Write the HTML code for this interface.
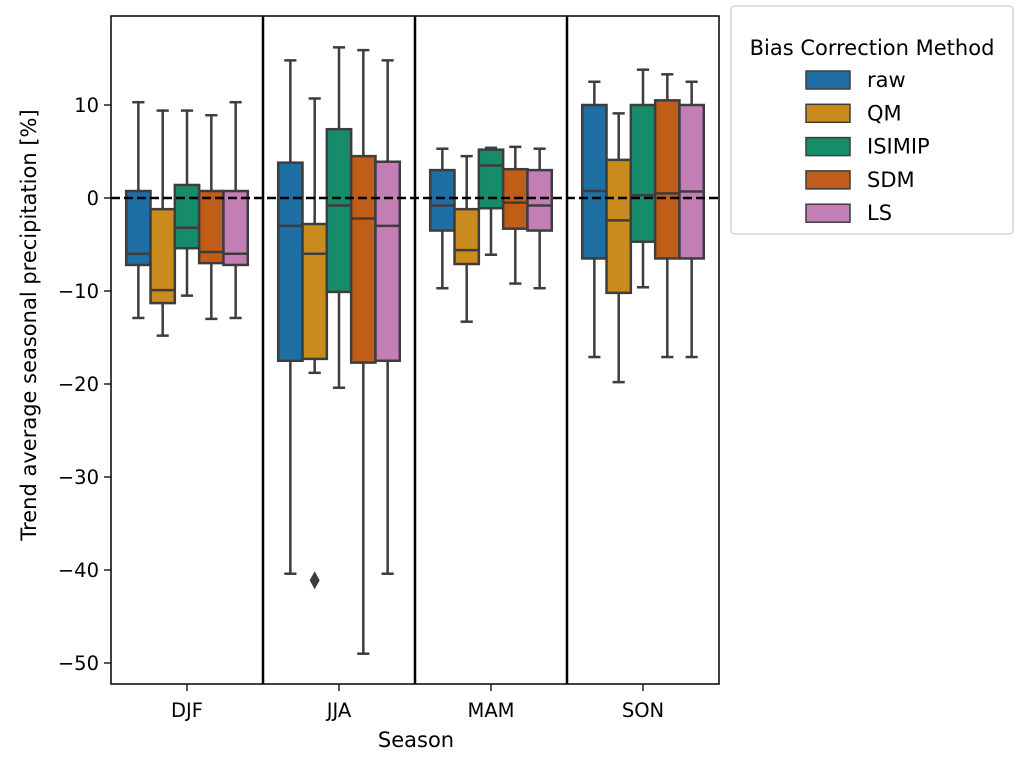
<!DOCTYPE html>
<html><head><meta charset="utf-8"><style>
body{margin:0;background:#fff;}
svg text{font-family:"DejaVu Sans","Liberation Sans",sans-serif;fill:#000;}
</style></head><body>
<svg id="chart" width="1033" height="765" xmlns="http://www.w3.org/2000/svg"></svg>
<script>
const seasons=["DJF","JJA","MAM","SON"];
const methods=["raw","QM","ISIMIP","SDM","LS"];
const colors=["#1f6fa5","#c98b1d","#178c6a","#c05d19","#c27eb5"];
// [low whisker, Q1, median, Q3, high whisker] per season per method
const djf=[[-12.9,-7.2,-6,0.75,10.3],[-14.8,-11.3,-9.9,-1.2,9.4],[-10.5,-5.4,-3.2,1.4,9.4],[-13,-7,-5.8,0.75,8.9],[-12.9,-7.2,-6,0.75,10.3]];
const jja=[[-40.4,-17.5,-3,3.8,14.8],[-18.8,-17.3,-6,-2.8,10.7],[-20.4,-10.1,-0.8,7.4,16.2],[-49,-17.7,-2.2,4.5,15.9],[-40.4,-17.5,-3,3.9,14.8]];
const mam=[[-9.7,-3.5,-0.8,3,5.3],[-13.3,-7.1,-5.6,-1.2,4.5],[-6.1,-1.1,3.5,5.2,5.4],[-9.2,-3.3,-0.5,3.1,5.5],[-9.7,-3.5,-0.8,3,5.3]];
const son=[[-17.1,-6.5,0.75,10,12.5],[-19.8,-10.2,-2.4,4.1,9.1],[-9.6,-4.7,0.3,10,13.8],[-17.1,-6.5,0.5,10.5,13.3],[-17.1,-6.5,0.7,10,12.5]];
const seasonData=[djf,jja,mam,son];
const outliers=[{s:1,m:1,v:-41.1}];
const yTicks=[10,0,-10,-20,-30,-40,-50];

const NS="http://www.w3.org/2000/svg";
const svg=document.getElementById('chart');
const L=111,R=719,T=16,B=684;
const y=v=>198-v*9.3;
const catW=(R-L)/seasons.length;
const cx=i=>L+catW*(i+0.5);
const bw=catW*0.8/methods.length;
function el(tag,attrs,parent){const e=document.createElementNS(NS,tag);for(const k in attrs)e.setAttribute(k,attrs[k]);(parent||svg).appendChild(e);return e;}
const ec="#3d3d3d";
for(let i=1;i<seasons.length;i++){
 const l=el('line',{x1:L+catW*i,x2:L+catW*i,y1:T,y2:B,stroke:"#000","stroke-width":2.5});
 
 
}
seasonData.forEach((sd,si)=>{
 sd.forEach((d,mi)=>{
  const g=el('g',{});
  
  
  const x0=cx(si)-catW*0.4+bw*mi, xm=x0+bw/2;
  el('line',{x1:xm,x2:xm,y1:y(d[3]),y2:y(d[4]),stroke:ec,"stroke-width":2.5},g);
  el('line',{x1:xm,x2:xm,y1:y(d[0]),y2:y(d[1]),stroke:ec,"stroke-width":2.5},g);
  el('line',{x1:xm-bw/4,x2:xm+bw/4,y1:y(d[4]),y2:y(d[4]),stroke:ec,"stroke-width":2.5},g);
  el('line',{x1:xm-bw/4,x2:xm+bw/4,y1:y(d[0]),y2:y(d[0]),stroke:ec,"stroke-width":2.5},g);
  el('rect',{x:x0,y:y(d[3]),width:bw,height:y(d[1])-y(d[3]),fill:colors[mi],stroke:ec,"stroke-width":2.5},g);
  el('line',{x1:x0,x2:x0+bw,y1:y(d[2]),y2:y(d[2]),stroke:ec,"stroke-width":2.5},g);
 });
});
outliers.forEach(o=>{
 const xm=cx(o.s)-catW*0.4+bw*o.m+bw/2, yy=y(o.v);
 const p=el('path',{d:`M${xm} ${yy-9}L${xm+5} ${yy}L${xm} ${yy+9}L${xm-5} ${yy}Z`,fill:ec});
 
 
});
const zl=el('line',{x1:L,x2:R,y1:y(0),y2:y(0),stroke:"#000","stroke-width":2.5,"stroke-dasharray":"9,4"});


const fr=el('rect',{x:L,y:T,width:R-L,height:B-T,fill:"none",stroke:"#000","stroke-width":1.5});


yTicks.forEach(t=>{
 el('line',{x1:L-7,x2:L,y1:y(t),y2:y(t),stroke:"#000","stroke-width":1.3});
 const tx=el('text',{x:L-12,y:y(t)+7,"text-anchor":"end","font-size":19.5});
 tx.textContent=(t<0?"\u2212"+(-t):t);
 
 
});
seasons.forEach((s,i)=>{
 el('line',{x1:cx(i),x2:cx(i),y1:B,y2:B+7,stroke:"#000","stroke-width":1.3});
 const tx=el('text',{x:cx(i),y:717,"text-anchor":"middle","font-size":19.5});
 tx.textContent=s;
 
 
});
const xl=el('text',{x:416,y:747,"text-anchor":"middle","font-size":21});
xl.textContent="Season";


const yl=el('text',{x:0,y:0,"text-anchor":"middle","font-size":21,transform:"translate(36,325) rotate(-90)"});
yl.textContent="Trend average seasonal precipitation [%]";


const lg=el('g',{});


el('rect',{x:731,y:6,width:282,height:228,rx:4,fill:"#fff",stroke:"#ccc","stroke-width":1.3},lg);
const lt=el('text',{x:872,y:55,"text-anchor":"middle","font-size":21},lg);
lt.textContent="Bias Correction Method";
methods.forEach((m,i)=>{
 const yy=80+i*33.3;
 const e=el('g',{},lg);
 
 
 el('rect',{x:806,y:yy-9,width:44,height:18,fill:colors[i],stroke:ec,"stroke-width":1.5},e);
 const t=el('text',{x:867,y:yy+7,"font-size":21},e);
 t.textContent=m;
});
</script>
</body></html>
